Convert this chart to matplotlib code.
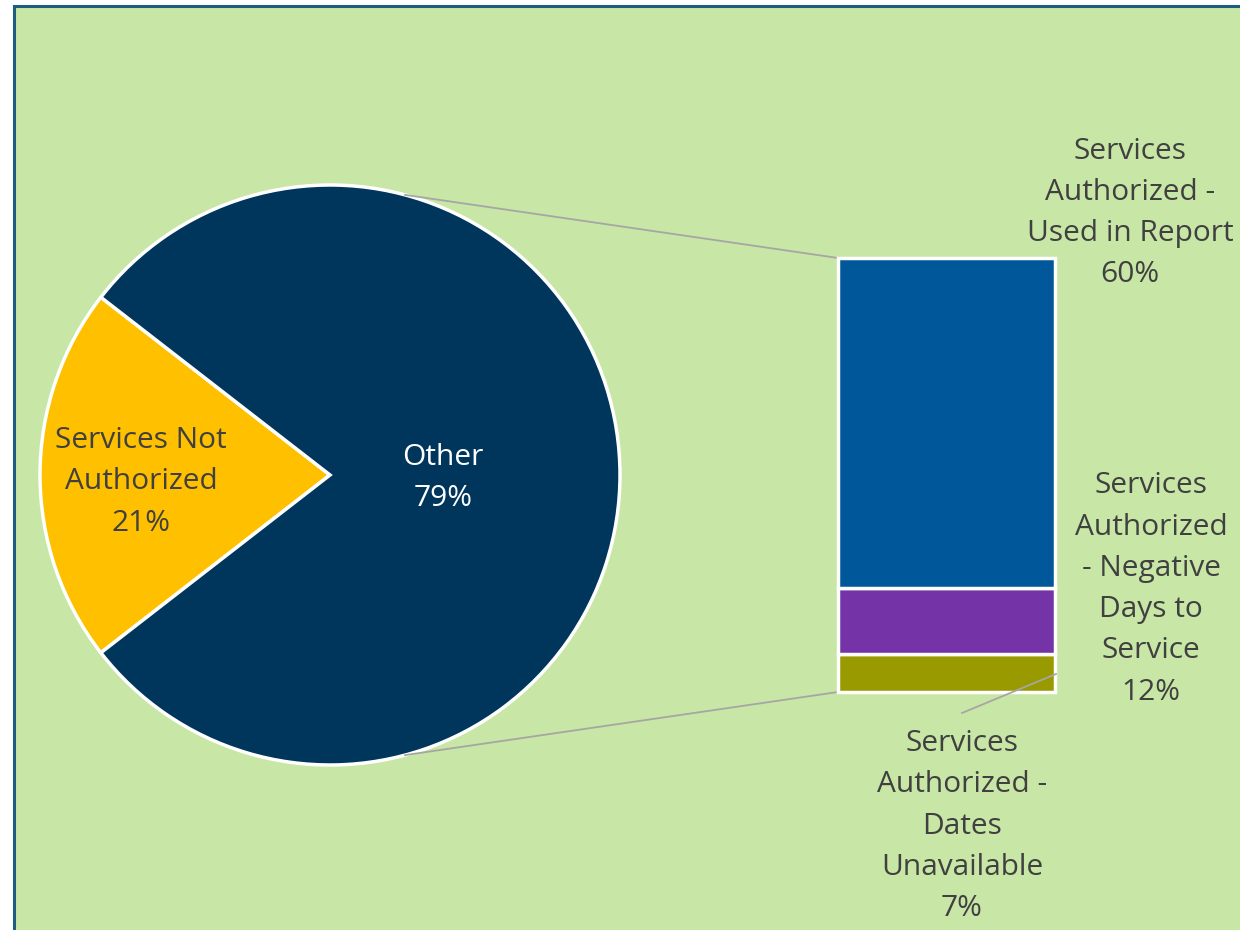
import numpy as np
import matplotlib.pyplot as plt
from matplotlib.patches import Rectangle

plt.rcParams["font.family"] = ["Open Sans", "DejaVu Sans"]

# pie: share of all records
pie_labels = ["Services Not\nAuthorized", "Other"]
pie_values = [21, 79]
pie_colors = ["#FFC000", "#00365C"]

# bar: breakdown of "Other" (bottom to top)
bar_labels = ["Services\nAuthorized -\nDates\nUnavailable",
              "Services\nAuthorized\n- Negative\nDays to\nService",
              "Services\nAuthorized -\nUsed in Report"]
bar_values = [7, 12, 60]
bar_colors = ["#999900", "#7433A6", "#00589B"]

W, H = 1240, 930
fig = plt.figure(figsize=(12.4, 9.3), dpi=100, facecolor="white")

# green plot area with dark border on left/top
fig.patches.append(Rectangle((14 / W, -0.05), 1.1, (H - 6) / H + 0.05,
                             transform=fig.transFigure,
                             facecolor="#C8E6A5", edgecolor="#1B5E7E", linewidth=2.2,
                             zorder=-5))

ax = fig.add_axes([0, 0, 1, 1])
ax.set_zorder(1)

txt = "#404040"
fs = 21.5
ls = 1.56

# pie
cx, cy, r = 330, 455, 290
start = 180 - pie_values[0] / 100 * 360 / 2
wedges, _ = ax.pie(pie_values, colors=pie_colors, startangle=start, radius=r,
                   center=(cx, cy), frame=True,
                   wedgeprops=dict(edgecolor="white", linewidth=2.5))
ax.set_xlim(0, W)
ax.set_ylim(0, H)
ax.set_aspect("equal")
ax.axis("off")

ax.text(141, H - 482, f"{pie_labels[0]}\n{pie_values[0]}%", ha="center", va="center",
        fontsize=fs, color=txt, linespacing=ls)
ax.text(443, H - 478, f"{pie_labels[1]}\n{pie_values[1]}%", ha="center", va="center",
        fontsize=fs, color="white", linespacing=ls)

# stacked bar
bx, bw = 946.5, 217
scale = 434 / sum(bar_values)
bottom = H - 692
for v, c in zip(bar_values, bar_colors):
    ax.bar(bx, v * scale, width=bw, bottom=bottom, color=c, edgecolor="white",
           linewidth=2.5, zorder=3)
    bottom += v * scale
bar_top = bottom
bar_bot = H - 692

# connector lines from pie to bar
ang = np.deg2rad(75)
ax.plot([cx + r * np.cos(ang), bx - bw / 2], [cy + r * np.sin(ang), bar_top],
        color="#A6A6A6", linewidth=1.3, zorder=1)
ax.plot([cx + r * np.cos(ang), bx - bw / 2], [cy - r * np.sin(ang), bar_bot],
        color="#A6A6A6", linewidth=1.3, zorder=1)

# bar labels
ax.text(1130, H - 213, f"{bar_labels[2]}\n{bar_values[2]}%", ha="center", va="center",
        fontsize=fs, color=txt, linespacing=ls)
ax.text(1151, H - 589, f"{bar_labels[1]}\n{bar_values[1]}%", ha="center", va="center",
        fontsize=fs, color=txt, linespacing=ls)
ax.text(962, H - 826, f"{bar_labels[0]}\n{bar_values[0]}%", ha="center", va="center",
        fontsize=fs, color=txt, linespacing=ls)
ax.plot([962, 1056], [H - 713, H - 674], color="#A6A6A6", linewidth=1.3, zorder=4)

fig.savefig("out.png", dpi=100, facecolor="white")
